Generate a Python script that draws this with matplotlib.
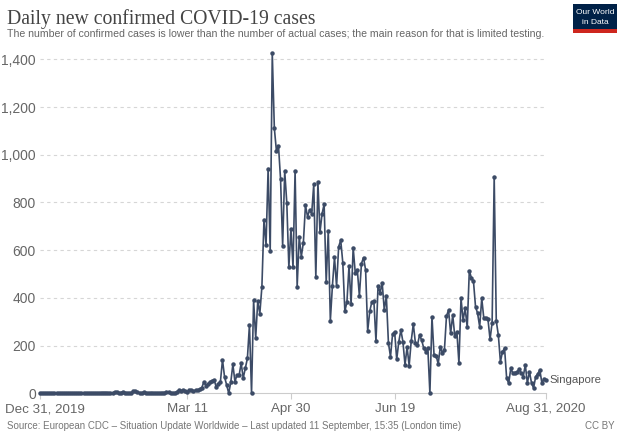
import numpy as np
import pandas as pd
import matplotlib
matplotlib.use("Agg")
import matplotlib.pyplot as plt
import matplotlib.transforms as mtransforms
from matplotlib.patches import Rectangle

# Daily new confirmed cases, Singapore (ECDC), Dec 31 2019 .. Aug 31 2020
dates = pd.date_range("2019-12-31", "2020-08-31", freq="D")
cases = (
    [0] * 24
    + [1, 2, 0, 1, 1, 2, 3, 3, 3, 2, 0, 0]
    + [6, 4, 2, 3, 7, 3, 2, 2, 3, 8, 9, 5]
    + [3, 2, 4, 3, 1, 2, 3, 1, 1, 1, 2, 3]
    + [3, 4, 4, 2, 2, 2, 7, 13, 8, 12, 10, 6]
    + [12, 12, 9, 13, 14, 17, 23, 47, 32, 40, 47, 53]
    + [56, 25, 40, 49, 140, 68, 35, 0, 47, 121, 49, 77]
    + [75, 126, 64, 106, 146, 287, 0, 389, 233, 386, 334, 447]
    + [728, 623, 942, 596, 1426, 1111, 1016, 1037, 897, 618, 931, 799]
    + [528, 690, 528, 932, 447, 657, 573, 632, 788, 741, 768, 753]
    + [876, 486, 884, 675, 752, 793, 465, 682, 305, 451, 570, 448]
    + [614, 642, 548, 344, 383, 533, 373, 611, 506, 518, 408, 544]
    + [569, 517, 261, 344, 383, 386, 218, 451, 422, 463, 349, 408]
    + [212, 153, 248, 258, 142, 216, 265, 216, 119, 193, 116, 220]
    + [290, 212, 202, 244, 223, 191, 174, 189, 0, 321, 160, 158]
    + [123, 193, 170, 181, 324, 349, 251, 328, 240, 258, 126, 398]
    + [307, 356, 276, 514, 484, 470, 363, 335, 279, 398, 314, 317]
    + [310, 226, 296, 908, 303, 244, 132, 174, 189, 63, 42, 105]
    + [84, 87, 90, 100, 86, 70, 119, 43, 90, 43, 22, 70]
    + [81, 98, 43, 60, 55]
)

tick_dates = pd.to_datetime(["2019-12-31", "2020-03-11", "2020-04-30", "2020-06-19", "2020-08-31"])
tick_labels = ["Dec 31, 2019", "Mar 11", "Apr 30", "Jun 19", "Aug 31, 2020"]
y_ticks = [0, 200, 400, 600, 800, 1000, 1200, 1400]

plt.rcParams["font.family"] = ["Liberation Sans", "DejaVu Sans"]

fig = plt.figure(figsize=(6.17, 4.34), dpi=100)
ax = fig.add_axes([0.0648, 0.0938, 0.8202, 0.786])

line_col = "#3c4b66"
ax.plot(dates, cases, color=line_col, lw=1.2, marker="o", ms=2.2,
        clip_on=False, zorder=3)

ax.set_xlim(dates[0], dates[-1])
ax.set_ylim(0, 1430)

ax.set_yticks(y_ticks)
ax.set_yticklabels([f"{v:,}" for v in y_ticks])
ax.set_xticks(tick_dates)
ax.set_xticklabels(tick_labels)

for v in y_ticks[1:]:
    ax.axhline(v, color="#d6d6d6", lw=0.8, ls=(0, (3, 3)), zorder=1)

for s in ["top", "right", "left"]:
    ax.spines[s].set_visible(False)
ax.spines["bottom"].set_color("#cccccc")
ax.tick_params(axis="y", length=0, labelsize=10, colors="#666666", pad=3)
ax.tick_params(axis="x", length=4, color="#cccccc", labelsize=9.6,
               labelcolor="#666666", pad=3)

# first date label sits a little right of its tick so it stays inside the figure
first = ax.get_xticklabels()[0]
first.set_transform(first.get_transform() + mtransforms.ScaledTranslation(5 / 100, 0, fig.dpi_scale_trans))

ax.text(dates[-1] + pd.Timedelta(days=1.5), cases[-1], "Singapore",
        fontsize=8.2, color="#555555", va="center", ha="left")

fig.text(0.011, 0.945, "Daily new confirmed COVID-19 cases",
         fontsize=14.2, color="#444444", family="Liberation Serif")
fig.text(0.011, 0.915, "The number of confirmed cases is lower than the number of actual cases; "
         "the main reason for that is limited testing.",
         fontsize=7.6, color="#666666")
fig.text(0.011, 0.012, "Source: European CDC \u2013 Situation Update Worldwide \u2013 "
         "Last updated 11 September, 15:35 (London time)",
         fontsize=7.0, color="#777777")
fig.text(0.996, 0.012, "CC BY", fontsize=7.0, color="#777777", ha="right")

# logo box
fig.patches.append(Rectangle((0.929, 0.932), 0.071, 0.058, transform=fig.transFigure,
                             facecolor="#002147", edgecolor="none"))
fig.patches.append(Rectangle((0.929, 0.925), 0.071, 0.008, transform=fig.transFigure,
                             facecolor="#ce261e", edgecolor="none"))
fig.text(0.965, 0.972, "Our World", fontsize=6, color="white", ha="center", va="center")
fig.text(0.965, 0.948, "in Data", fontsize=6, color="white", ha="center", va="center")

fig.savefig("out.png", dpi=100)
